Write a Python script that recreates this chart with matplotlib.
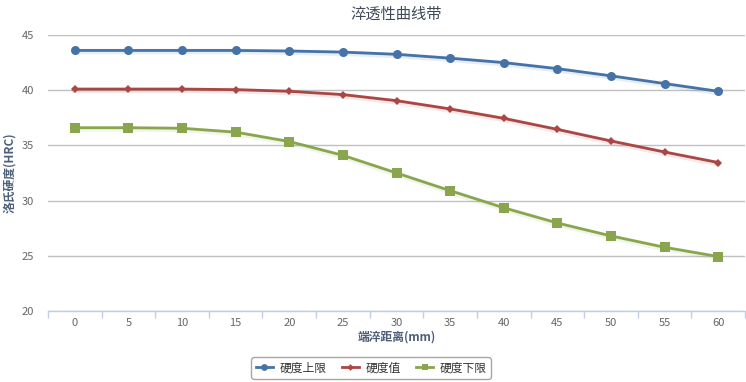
import matplotlib
matplotlib.use("Agg")
import matplotlib.pyplot as plt

plt.rcParams['font.family'] = ['Noto Sans CJK SC', 'DejaVu Sans']

# distance from quenched end (mm)
distance = [0, 5, 10, 15, 20, 25, 30, 35, 40, 45, 50, 55, 60]
# hardness values (HRC)
upper = [43.6, 43.6, 43.6, 43.6, 43.55, 43.45, 43.25, 42.9, 42.5, 41.95, 41.3, 40.6, 39.9]
middle = [40.1, 40.1, 40.1, 40.05, 39.9, 39.6, 39.05, 38.3, 37.45, 36.45, 35.4, 34.4, 33.45]
lower = [36.6, 36.6, 36.55, 36.2, 35.35, 34.1, 32.5, 30.9, 29.35, 27.97, 26.8, 25.77, 24.93]
series_names = ['硬度上限', '硬度值', '硬度下限']
y_ticks = [20, 25, 30, 35, 40, 45]

fig = plt.figure(figsize=(7.46, 3.82), dpi=100)
ax = fig.add_axes([48 / 746, 1 - 311 / 382, 697 / 746, 276 / 382])

styles = [('#4572A7', 'o', 6.5), ('#AA4643', 'D', 4.5), ('#89A54E', 's', 6.5)]
for vals, name, (col, mk, ms) in zip([upper, middle, lower], series_names, styles):
    # faint shadow under the line
    ax.plot(distance, [v - 0.1 for v in vals], color=col, alpha=0.12, lw=4, zorder=2)
    ax.plot(distance, vals, color=col, lw=2, marker=mk, markersize=ms,
            markeredgewidth=0, label=name, zorder=3)

ax.set_xlim(-2.5, 62.5)
ax.set_ylim(20, 45)
ax.set_yticks(y_ticks)
ax.set_xticks(distance)
ax.set_xticks([d - 2.5 for d in distance] + [62.5], minor=True)
ax.grid(axis='y', color='#c0c0c0', lw=1)
ax.set_axisbelow(True)

for s in ['top', 'right', 'left']:
    ax.spines[s].set_visible(False)
ax.spines['bottom'].set_color('#c0d0e0')
ax.spines['bottom'].set_linewidth(1)

ax.tick_params(axis='y', length=0, pad=10, labelsize=8, labelcolor='#666666')
ax.tick_params(axis='x', which='major', length=0, pad=5, labelsize=8, labelcolor='#666666')
ax.tick_params(axis='x', which='minor', length=5, color='#c0d0e0', width=1)

ax.set_title('淬透性曲线带', fontsize=11, color='#3e4a5a', pad=12)
ax.set_xlabel('端淬距离(mm)', fontsize=8.5, fontweight='bold', color='#4d5f78', labelpad=2)
ax.set_ylabel('洛氏硬度(HRC)', fontsize=8.5, fontweight='bold', color='#4d5f78', labelpad=4)

leg = fig.legend(loc='center', bbox_to_anchor=(371 / 746, 1 - 368 / 382), ncol=3,
                 frameon=True, fontsize=8.5, handlelength=1.5, columnspacing=1.3,
                 handletextpad=0.5, borderpad=0.35, fancybox=True, markerscale=0.75)
leg.get_frame().set_edgecolor('#909090')
leg.get_frame().set_linewidth(1)
for t in leg.get_texts():
    t.set_color('#333333')

fig.savefig('out.png', dpi=100)
